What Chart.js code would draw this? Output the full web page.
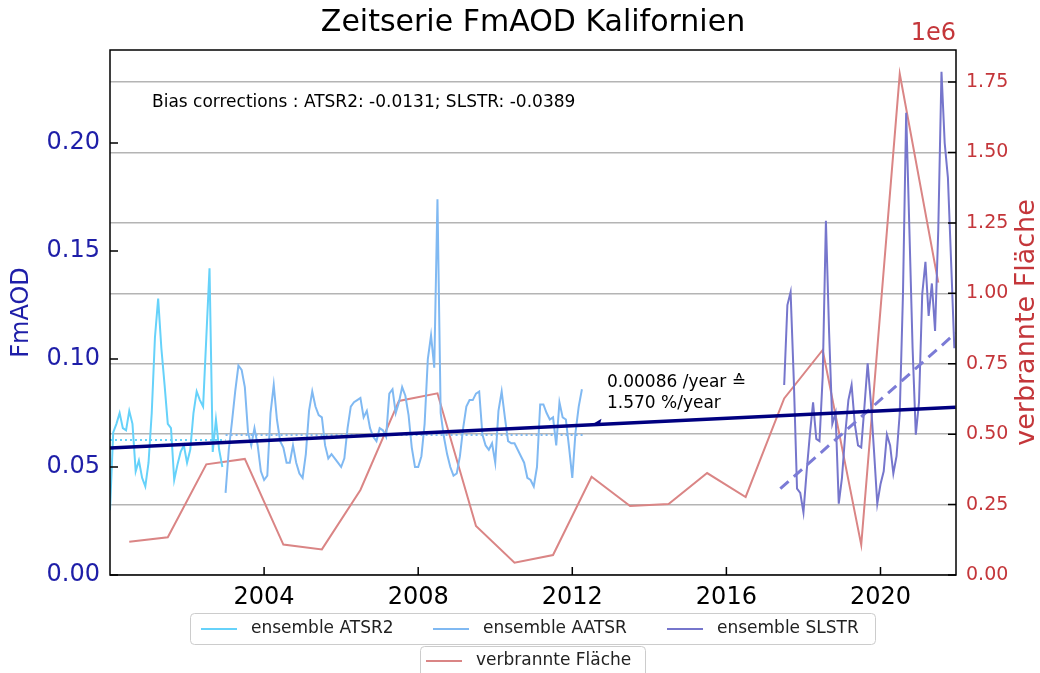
<!DOCTYPE html>
<html>
<head>
<meta charset="utf-8">
<script src="https://cdn.jsdelivr.net/npm/chart.js@4/dist/chart.umd.min.js"></script>
<style>
  html, body { margin: 0; padding: 0; background: #fff; }
  canvas { display: block; }
</style>
</head>
<body>
<canvas id="fmaod" width="1040" height="673"></canvas>
<script>
// -------- DATA -------- //
// monthly FmAOD, ensemble ATSR2 (from Jan 2000)
var atsr2Start = 2000.0;
var atsr2Values = [0.030, 0.066, 0.070, 0.075, 0.068, 0.067, 0.076, 0.070, 0.048, 0.053, 0.045, 0.041,
    0.052, 0.075, 0.110, 0.128, 0.105, 0.088, 0.070, 0.068, 0.044, 0.051, 0.057, 0.060,
    0.052, 0.058, 0.075, 0.085, 0.081, 0.078, 0.110, 0.142, 0.057, 0.072, 0.058, 0.050];

// monthly FmAOD, ensemble AATSR (from Jan 2003)
var aatsrStart = 2003.0;
var aatsrValues = [0.038, 0.058, 0.071, 0.085, 0.097, 0.095, 0.087, 0.066, 0.060, 0.068,
    0.060, 0.048, 0.044, 0.046, 0.075, 0.088, 0.072, 0.062, 0.059, 0.052,
    0.052, 0.060, 0.052, 0.047, 0.045, 0.056, 0.076, 0.085, 0.078, 0.074,
    0.073, 0.060, 0.054, 0.056, 0.054, 0.052, 0.050, 0.054, 0.068, 0.078,
    0.080, 0.081, 0.082, 0.073, 0.076, 0.068, 0.064, 0.062, 0.068, 0.067,
    0.064, 0.084, 0.086, 0.075, 0.080, 0.087, 0.083, 0.074, 0.059, 0.050,
    0.050, 0.055, 0.070, 0.100, 0.111, 0.096, 0.174, 0.075, 0.064, 0.056,
    0.050, 0.046, 0.047, 0.055, 0.068, 0.078, 0.081, 0.081, 0.084, 0.085,
    0.065, 0.060, 0.058, 0.061, 0.052, 0.076, 0.085, 0.073, 0.062, 0.061,
    0.061, 0.058, 0.055, 0.052, 0.045, 0.044, 0.041, 0.050, 0.079, 0.079,
    0.075, 0.072, 0.073, 0.060, 0.080, 0.073, 0.072, 0.059, 0.045, 0.066,
    0.078, 0.086];

// monthly FmAOD, ensemble SLSTR (from mid 2017)
var slstrStart = 2017.5;
var slstrValues = [0.088, 0.125, 0.131, 0.090, 0.040, 0.038, 0.029, 0.048, 0.065, 0.080,
    0.063, 0.062, 0.092, 0.164, 0.112, 0.070, 0.075, 0.033, 0.045, 0.065,
    0.081, 0.088, 0.070, 0.060, 0.059, 0.078, 0.098, 0.080, 0.057, 0.033,
    0.042, 0.048, 0.065, 0.060, 0.047, 0.055, 0.075, 0.130, 0.214, 0.160,
    0.105, 0.065, 0.080, 0.130, 0.145, 0.120, 0.135, 0.113, 0.160, 0.233,
    0.200, 0.184, 0.145, 0.105];

// yearly burned area (right axis)
var burnedYears = [2000.5, 2001.5, 2002.5, 2003.5, 2004.5, 2005.5, 2006.5, 2007.5, 2008.5, 2009.5, 2010.5,
    2011.5, 2012.5, 2013.5, 2014.5, 2015.5, 2016.5, 2017.5, 2018.5, 2019.5, 2020.5, 2021.5];
var burnedArea = [118000, 134000, 393000, 412000, 108000, 91000, 302000, 618000, 645000, 174000, 44000,
    71000, 349000, 245000, 252000, 362000, 277000, 627000, 799000, 107000, 1779000, 1038000];

// trend lines and means
var trendYears = [2000.0, 2021.95];
var trendValues = [0.0588, 0.0777];
var slstrTrendYears = [2017.4, 2021.95];
var slstrTrendValues = [0.040, 0.112];
var atsr2MeanYears = [2000.0, 2003.0];
var atsr2MeanValues = [0.0625, 0.0625];
var aatsrMeanYears = [2003.0, 2012.3];
var aatsrMeanValues = [0.0648, 0.0648];

// axes
var xTickYears = [2004, 2008, 2012, 2016, 2020];
var leftTicks = [0.00, 0.05, 0.10, 0.15, 0.20];
var rightTicks = [0, 250000, 500000, 750000, 1000000, 1250000, 1500000, 1750000];

var FONT = "'DejaVu Sans', sans-serif";
var LEFT_COLOR = '#1e1ea8';
var RIGHT_COLOR = '#c4363a';

function monthly(start, values) {
    return values.map(function (v, i) { return { x: start + i / 12, y: v }; });
}
function pairs(xs, ys) {
    return xs.map(function (x, i) { return { x: x, y: ys[i] }; });
}

// -------- custom drawing: inward ticks, frame, texts, legend -------- //
var decorations = {
    id: 'decorations',
    afterDraw: function (chart) {
        var ctx = chart.ctx;
        var a = chart.chartArea;
        var sx = chart.scales.x, sy = chart.scales.y, sy2 = chart.scales.y2;
        ctx.save();

        // ticks pointing into the plot
        ctx.strokeStyle = '#000';
        ctx.lineWidth = 1.5;
        ctx.beginPath();
        sx.ticks.forEach(function (t) {
            var px = sx.getPixelForValue(t.value);
            ctx.moveTo(px, a.bottom); ctx.lineTo(px, a.bottom - 8);
        });
        sy.ticks.forEach(function (t) {
            var py = sy.getPixelForValue(t.value);
            ctx.moveTo(a.left, py); ctx.lineTo(a.left + 8, py);
        });
        sy2.ticks.forEach(function (t) {
            var py = sy2.getPixelForValue(t.value);
            ctx.moveTo(a.right, py); ctx.lineTo(a.right - 8, py);
        });
        ctx.stroke();
        ctx.strokeRect(a.left, a.top, a.right - a.left, a.bottom - a.top);

        // title + offset text
        ctx.fillStyle = '#000';
        ctx.textAlign = 'center';
        ctx.textBaseline = 'middle';
        ctx.font = '30px ' + FONT;
        ctx.fillText('Zeitserie FmAOD Kalifornien', (a.left + a.right) / 2, 23);
        ctx.fillStyle = RIGHT_COLOR;
        ctx.textAlign = 'right';
        ctx.font = '24px ' + FONT;
        ctx.fillText('1e6', a.right, 34);

        // axis titles
        ctx.save();
        ctx.translate(22, (a.top + a.bottom) / 2);
        ctx.rotate(-Math.PI / 2);
        ctx.textAlign = 'center';
        ctx.fillStyle = LEFT_COLOR;
        ctx.font = '24px ' + FONT;
        ctx.fillText('FmAOD', 0, 0);
        ctx.restore();
        ctx.save();
        ctx.translate(1027, (a.top + a.bottom) / 2 + 10);
        ctx.rotate(-Math.PI / 2);
        ctx.textAlign = 'center';
        ctx.fillStyle = RIGHT_COLOR;
        ctx.font = '27px ' + FONT;
        ctx.fillText('verbrannte Fläche', 0, 0);
        ctx.restore();

        // bias note
        ctx.fillStyle = '#000';
        ctx.textAlign = 'left';
        ctx.font = '17px ' + FONT;
        ctx.fillText('Bias corrections : ATSR2: -0.0131; SLSTR: -0.0389', a.left + 42, a.top + 53);

        // trend annotation with arrow
        var tx = sx.getPixelForValue(2012.9);
        ctx.fillText('0.00086 /year \u2259', tx, sy.getPixelForValue(0.0889));
        ctx.fillText('1.570 %/year', tx, sy.getPixelForValue(0.0796));
        var hx = sx.getPixelForValue(2012.55), hy = sy.getPixelForValue(0.0696);
        ctx.fillStyle = '#000080';
        ctx.beginPath();
        ctx.moveTo(hx - 2, hy);
        ctx.lineTo(hx + 8, hy - 6);
        ctx.lineTo(hx + 6, hy + 1);
        ctx.closePath();
        ctx.fill();

        // legend (two boxes, like the reference)
        var ds = chart.data.datasets;
        ctx.strokeStyle = '#cccccc';
        ctx.lineWidth = 1;
        ctx.fillStyle = '#ffffff';
        ctx.beginPath();
        ctx.roundRect(190.5, 613.5, 685, 31, 4);
        ctx.fill(); ctx.stroke();
        ctx.beginPath();
        ctx.roundRect(420.5, 646.5, 225, 31, 4);
        ctx.fill(); ctx.stroke();
        var items = [
            { d: ds[0], x: 201, y: 629 },
            { d: ds[1], x: 433, y: 629 },
            { d: ds[2], x: 667, y: 629 },
            { d: ds[3], x: 426, y: 661 }
        ];
        ctx.font = '17px ' + FONT;
        ctx.textAlign = 'left';
        items.forEach(function (it) {
            ctx.strokeStyle = it.d.borderColor;
            ctx.lineWidth = 2;
            ctx.beginPath();
            ctx.moveTo(it.x, it.y); ctx.lineTo(it.x + 36, it.y);
            ctx.stroke();
            ctx.fillStyle = '#222';
            ctx.fillText(it.d.label, it.x + 50, it.y);
        });
        ctx.restore();
    }
};

var ctx1 = document.getElementById('fmaod').getContext('2d');

new Chart(ctx1, {
    type: 'line',
    data: {
        datasets: [{
            label: 'ensemble ATSR2',
            data: monthly(atsr2Start, atsr2Values),
            borderColor: '#66d2fa',
            borderWidth: 2,
            yAxisID: 'y',
            order: 3
        }, {
            label: 'ensemble AATSR',
            data: monthly(aatsrStart, aatsrValues),
            borderColor: '#80b9f2',
            borderWidth: 2,
            yAxisID: 'y',
            order: 3
        }, {
            label: 'ensemble SLSTR',
            data: monthly(slstrStart, slstrValues),
            borderColor: '#7676cc',
            borderWidth: 2,
            yAxisID: 'y',
            order: 3
        }, {
            label: 'verbrannte Fläche',
            data: pairs(burnedYears, burnedArea),
            borderColor: '#da8585',
            borderWidth: 2,
            yAxisID: 'y2',
            order: 4
        }, {
            label: 'trend',
            data: pairs(trendYears, trendValues),
            borderColor: '#000080',
            borderWidth: 3.5,
            yAxisID: 'y',
            order: 0
        }, {
            label: 'SLSTR trend',
            data: pairs(slstrTrendYears, slstrTrendValues),
            borderColor: '#7b7bd6',
            borderWidth: 3,
            borderDash: [11, 7],
            yAxisID: 'y',
            order: 1
        }, {
            label: 'ATSR2 mean',
            data: pairs(atsr2MeanYears, atsr2MeanValues),
            borderColor: '#66d2fa',
            borderWidth: 2,
            borderDash: [2, 3],
            yAxisID: 'y',
            order: 2
        }, {
            label: 'AATSR mean',
            data: pairs(aatsrMeanYears, aatsrMeanValues),
            borderColor: '#80b9f2',
            borderWidth: 2,
            borderDash: [2, 3],
            yAxisID: 'y',
            order: 2
        }]
    },
    options: {
        responsive: false,
        animation: false,
        devicePixelRatio: 1,
        layout: { padding: { top: 50, left: 0, right: 0, bottom: 0 } },
        elements: { point: { radius: 0 }, line: { tension: 0 } },
        plugins: {
            legend: { display: false },
            title: { display: false },
            tooltip: { enabled: false }
        },
        scales: {
            x: {
                type: 'linear',
                min: 2000.0,
                max: 2021.96,
                afterBuildTicks: function (s) { s.ticks = xTickYears.map(function (v) { return { value: v }; }); },
                afterFit: function (s) { s.height = 98; },
                grid: { display: false, drawTicks: false },
                border: { display: false },
                ticks: {
                    callback: function (v) { return String(v); },
                    color: '#000',
                    font: { size: 24, family: FONT },
                    padding: 8,
                    maxRotation: 0,
                    autoSkip: false
                }
            },
            y: {
                position: 'left',
                min: 0,
                max: 0.2431,
                afterBuildTicks: function (s) { s.ticks = leftTicks.map(function (v) { return { value: v }; }); },
                afterFit: function (s) { s.width = 110; },
                grid: { display: false, drawTicks: false },
                border: { display: false },
                ticks: {
                    callback: function (v) { return v.toFixed(2); },
                    color: LEFT_COLOR,
                    font: { size: 24, family: FONT },
                    padding: 10
                }
            },
            y2: {
                position: 'right',
                min: 0,
                max: 1864000,
                afterBuildTicks: function (s) { s.ticks = rightTicks.map(function (v) { return { value: v }; }); },
                afterFit: function (s) { s.width = 84; },
                grid: { display: true, drawTicks: false, drawOnChartArea: true, color: '#b4b4b4', lineWidth: 1.5 },
                border: { display: false },
                ticks: {
                    callback: function (v) { return (v / 1e6).toFixed(2); },
                    color: RIGHT_COLOR,
                    font: { size: 19, family: FONT },
                    padding: 10
                }
            }
        }
    },
    plugins: [decorations]
});
</script>
</body>
</html>
